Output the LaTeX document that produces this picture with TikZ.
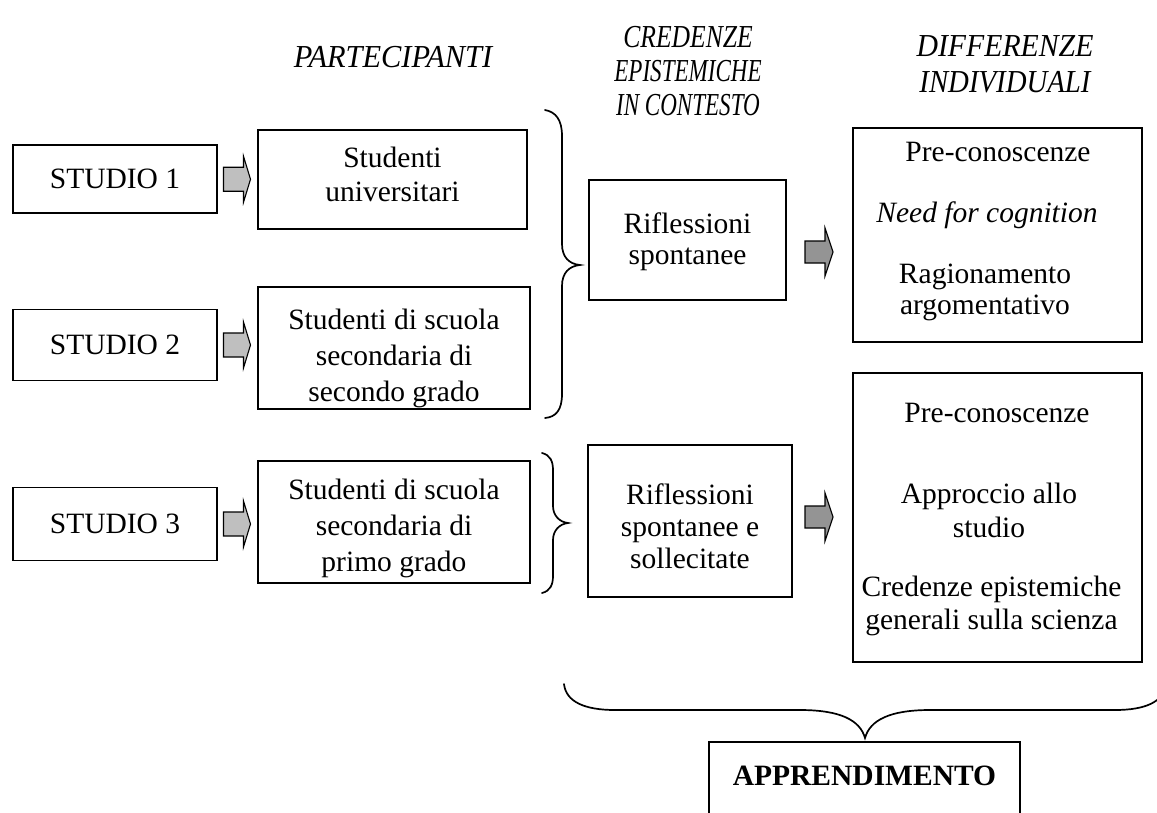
\documentclass[tikz,border=0pt]{standalone}
\usepackage{graphicx}
\usepackage{fontspec}
\setmainfont{Liberation Serif}
\usetikzlibrary{calc}
\newcommand{\cnd}[2]{\scalebox{#1}[1]{#2}}
\begin{document}
\begin{tikzpicture}[x=1pt,y=-1pt,
  every node/.style={font=\fontsize{29.5}{34}\selectfont, inner sep=0pt, align=center},
  box/.style={draw, line width=1.1pt},
  head/.style={font=\fontsize{32}{34}\selectfont\itshape},
  brace/.style={draw, line width=1.7pt, line cap=round},
  larrow/.pic={\draw[line width=1.1pt, fill=black!25, line join=miter]
     (-14,-12) -- (6,-12) -- (6,-23) -- (13,0) -- (6,23) -- (6,12) -- (-14,12) -- cycle;},
  rarrow/.pic={\draw[line width=1.1pt, fill=black!42, line join=miter]
     (-14,-11) -- (6,-11) -- (6,-24) -- (14,0) -- (6,24) -- (6,11) -- (-14,11) -- cycle;}
]
\useasboundingbox (0,0) rectangle (1157,812);
\clip (0,0) rectangle (1157,812);

% headers
\node[head] (hP) at (393,57) {\cnd{0.95}{PARTECIPANTI}};
\node[head] (hC) at (688,71) {\cnd{0.8}{CREDENZE}\\\cnd{0.72}{EPISTEMICHE}\\\cnd{0.72}{IN CONTESTO}};
\node[head, font=\fontsize{32}{36}\selectfont\itshape] (hD) at (1005,64) {\cnd{0.93}{DIFFERENZE}\\\cnd{0.9}{INDIVIDUALI}};

% studio boxes
\node[box, minimum width=204pt, minimum height=68pt] (s1) at (115,179) {STUDIO 1};
\node[box, minimum width=204pt, minimum height=71pt] (s2) at (115,345) {STUDIO 2};
\node[box, minimum width=204pt, minimum height=73pt] (s3) at (115,524) {STUDIO 3};

% participant boxes
\node[box, minimum width=269pt, minimum height=99pt] (p1) at (392.5,179.5) {};
\node (p1t) at (392.5,174) {Studenti\\universitari};
\node[box, minimum width=272pt, minimum height=122pt] (p2) at (394,348) {};
\node[font=\fontsize{29.5}{36}\selectfont] (p2t) at (394,358) {Studenti di scuola\\secondaria di\\secondo grado};
\node[box, minimum width=272pt, minimum height=122pt] (p3) at (394,522) {};
\node[font=\fontsize{29.5}{36}\selectfont] (p3t) at (394,528) {Studenti di scuola\\secondaria di\\primo grado};

% arrows studio -> participants
\pic at ($(s1.east)!0.5!(p1.west)$) {larrow};
\pic at ($(s2.east)!0.5!(p2.west |- s2)$) {larrow};
\pic at ($(s3.east)!0.5!(p3.west |- s3)$) {larrow};

% braces
\draw[brace] (545,110) .. controls (556,112) and (562,120) .. (562,136)
  -- (562,244) .. controls (562,257) and (569,264) .. (580,265)
  .. controls (569,266) and (562,273) .. (562,286)
  -- (562,394) .. controls (562,410) and (556,417) .. (545,418);
\draw[brace] (542,453) .. controls (550,455) and (553,461) .. (553,470)
  -- (553,506) .. controls (553,515) and (559,522) .. (568,523)
  .. controls (559,524) and (553,531) .. (553,540)
  -- (553,576) .. controls (553,585) and (550,591) .. (542,593);

% reflection boxes
\node[box, minimum width=197pt, minimum height=120pt] (r1) at (687.5,240) {};
\node[font=\fontsize{29.5}{31}\selectfont] (r1t) at (687.5,242) {Riflessioni\\spontanee};
\node[box, minimum width=204pt, minimum height=152pt] (r2) at (690,521) {};
\node[font=\fontsize{29.5}{32}\selectfont] (r2t) at (690,526) {Riflessioni\\spontanee e\\sollecitate};

% differences boxes
\node[box, minimum width=289pt, minimum height=214pt] (d1) at (997.5,235) {};
\node (d1a) at (998,152) {Pre-conoscenze};
\node[font=\fontsize{29.5}{34}\selectfont\itshape] (d1b) at (987,215) {Need for cognition};
\node[font=\fontsize{29.5}{31}\selectfont] (d1c) at (985,292) {Ragionamento\\argomentativo};

\node[box, minimum width=289pt, minimum height=289pt] (d2) at (997.5,517.5) {};
\node (d2a) at (997,413) {Pre-conoscenze};
\node (d2b) at (989,510) {Approccio allo\\studio};
\node[font=\fontsize{29.5}{33}\selectfont] (d2c) at (991.5,606) {Credenze epistemiche\\generali sulla scienza};

% arrows reflections -> differences
\coordinate (ra1) at (819,252);
\coordinate (ra2) at (819,517);
\pic at (ra1) {rarrow};
\pic at (ra2) {rarrow};

% bottom brace
\draw[brace] (564,684) .. controls (566,702) and (585,710) .. (615,710)
  -- (800,710) .. controls (840,710) and (860,720) .. (865,738)
  .. controls (870,720) and (890,710) .. (930,710)
  -- (1115,710) .. controls (1145,710) and (1164,702) .. (1166,684);

% learning box
\node[draw, line width=2pt, minimum width=311pt, minimum height=100pt, anchor=north] (ap) at (864.5,741) {};
\node[font=\fontsize{29.5}{34}\selectfont\bfseries] (apt) at (864.5,776) {APPRENDIMENTO};
\end{tikzpicture}
\end{document}
